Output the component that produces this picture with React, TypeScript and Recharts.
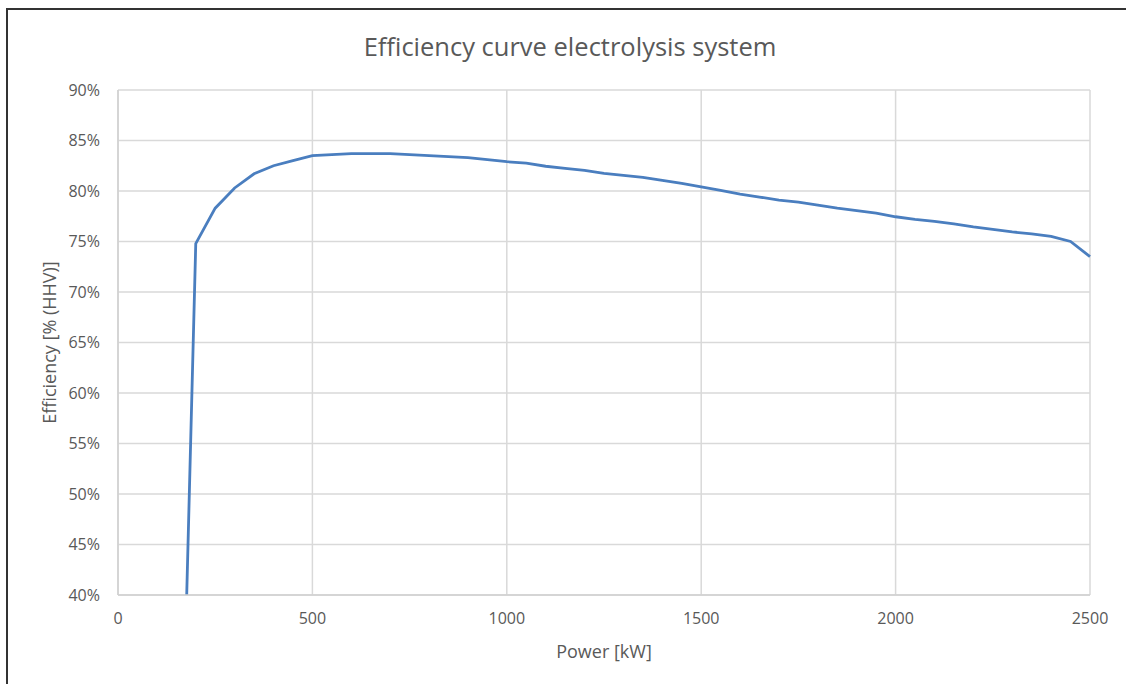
import React from "react";
import { CartesianGrid, Label, Line, LineChart, XAxis, YAxis } from "recharts";

// power steps in kW and system efficiency in % (HHV)
const powerKw = [
  0, 50, 100, 150, 200, 250, 300, 350, 400, 450, 500, 550, 600, 650, 700, 750,
  800, 850, 900, 950, 1000, 1050, 1100, 1150, 1200, 1250, 1300, 1350, 1400,
  1450, 1500, 1550, 1600, 1650, 1700, 1750, 1800, 1850, 1900, 1950, 2000, 2050,
  2100, 2150, 2200, 2250, 2300, 2350, 2400, 2450, 2500,
];
const efficiency = [
  0, 0, 0, 0, 74.8, 78.3, 80.3, 81.7, 82.5, 83.0, 83.5, 83.6, 83.7, 83.7, 83.7,
  83.6, 83.5, 83.4, 83.3, 83.1, 82.9, 82.75, 82.45, 82.25, 82.05, 81.75, 81.55,
  81.35, 81.05, 80.75, 80.4, 80.05, 79.7, 79.4, 79.1, 78.9, 78.6, 78.3, 78.05,
  77.8, 77.45, 77.2, 77.0, 76.75, 76.45, 76.2, 75.95, 75.75, 75.5, 75.0, 73.5,
];
const xTicks = [0, 500, 1000, 1500, 2000, 2500];
const yTicks = [40, 45, 50, 55, 60, 65, 70, 75, 80, 85, 90];

const data = powerKw.map((p, i) => ({ power: p, eff: efficiency[i] }));

const FONT = "'Open Sans', sans-serif";
const TEXT = "#595959";

export default function App() {
  return (
    <div
      style={{
        position: "fixed",
        inset: 0,
        overflow: "hidden",
        background: "#fff",
        fontFamily: FONT,
      }}
    >
      <div
        style={{
          position: "absolute",
          left: 6,
          top: 8,
          width: 1200,
          height: 760,
          border: "2px solid #333",
          boxSizing: "border-box",
        }}
      />
      <div
        style={{
          position: "absolute",
          left: 0,
          width: 1140,
          top: 29,
          textAlign: "center",
          fontSize: 25.5,
          color: TEXT,
        }}
      >
        Efficiency curve electrolysis system
      </div>
      <div style={{ position: "absolute", left: 0, top: 0 }}>
        <LineChart
          width={1126}
          height={684}
          data={data}
          margin={{ top: 90, right: 36, bottom: 29, left: 30 }}
        >
          <CartesianGrid stroke="#d9d9d9" strokeWidth={1.5} />
          <XAxis
            dataKey="power"
            type="number"
            domain={[0, 2500]}
            ticks={xTicks}
            height={60}
            tickLine={false}
            tickSize={0}
            tickMargin={18}
            axisLine={{ stroke: "#d0d0d0", strokeWidth: 1.5 }}
            tick={{ fill: TEXT, fontSize: 16, fontFamily: FONT }}
          >
            <Label
              value="Power [kW]"
              position="insideBottom"
              offset={-3}
              style={{ fill: TEXT, fontSize: 18, fontFamily: FONT }}
            />
          </XAxis>
          <YAxis
            type="number"
            domain={[40, 90]}
            ticks={yTicks}
            allowDataOverflow
            width={88}
            tickLine={false}
            tickSize={0}
            tickMargin={18}
            axisLine={{ stroke: "#d0d0d0", strokeWidth: 1.5 }}
            tickFormatter={(v: number) => `${v}%`}
            tick={{ fill: TEXT, fontSize: 16, fontFamily: FONT }}
          >
            <Label
              value="Efficiency [% (HHV)]"
              angle={-90}
              position="insideLeft"
              offset={20}
              style={{
                fill: TEXT,
                fontSize: 18,
                fontFamily: FONT,
                textAnchor: "middle",
              }}
            />
          </YAxis>
          <Line
            dataKey="eff"
            type="linear"
            stroke="#4a7ebf"
            strokeWidth={2.8}
            dot={false}
            isAnimationActive={false}
          />
        </LineChart>
      </div>
    </div>
  );
}
